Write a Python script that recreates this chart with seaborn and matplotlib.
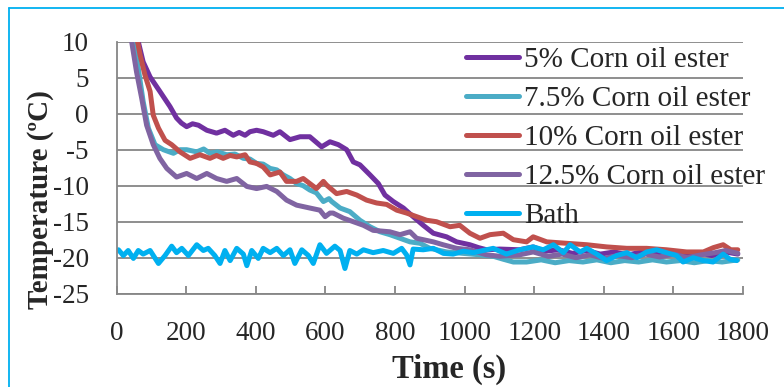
import matplotlib
matplotlib.use("Agg")
import matplotlib.pyplot as plt
import seaborn as sns
import pandas as pd
from matplotlib.lines import Line2D

sns.set_style("white")
plt.rcParams['font.family'] = ['Liberation Serif', 'DejaVu Serif']
plt.rcParams['axes.unicode_minus'] = False

# values (time in s, temperature in degC)
t_5 = [40, 62, 76, 96, 124, 153, 172, 186, 201, 218, 235, 259, 287, 311, 335, 352, 369, 383, 402, 421,
       450, 469, 498, 527, 555, 589, 613, 637, 661, 680, 699, 728, 752, 771, 795, 824, 852, 881, 910, 948,
       977, 1015, 1040, 1063, 1101, 1158, 1197, 1230, 1270, 1310, 1350, 1390, 1430, 1470, 1510, 1550,
       1590, 1630, 1670, 1710, 1750, 1785]
v_5 = [14.4, 10, 7.2, 5.1, 3.1, 1.0, -0.6, -1.3, -1.8, -1.4, -1.6, -2.3, -2.7, -2.3, -3.0, -2.6, -3.0, -2.5, -2.3, -2.5,
       -3.0, -2.5, -3.6, -3.2, -3.2, -4.6, -3.9, -4.3, -5.0, -6.7, -7.1, -8.5, -9.7, -11.3, -12.2, -13.1, -14.3, -15.5, -16.6, -17.1,
       -17.8, -18.2, -18.6, -18.9, -18.8, -18.9, -18.5, -19.1, -18.9, -19.4, -19.0, -19.5, -19.2, -19.6, -19.2, -19.5,
       -19.1, -19.6, -19.3, -19.7, -19.2, -19.5]

t_75 = [30, 48, 62, 76, 91, 110, 134, 163, 182, 201, 230, 250, 268, 290, 316, 340, 364, 383, 402, 421,
        441, 460, 479, 498, 517, 536, 555, 574, 594, 610, 618, 642, 670, 699, 728, 757, 785, 814, 843, 872,
        900, 948, 996, 1044, 1082, 1110, 1140, 1178, 1220, 1260, 1300, 1340, 1380, 1420, 1460, 1500,
        1540, 1580, 1620, 1660, 1700, 1740, 1785]
v_75 = [14.0, 10, 6.3, 1.7, -2.0, -4.3, -5.0, -5.5, -5.0, -5.0, -5.3, -4.9, -5.5, -5.3, -5.7, -5.6, -6.2, -6.3, -6.9, -7.0,
        -7.6, -7.8, -8.5, -9.0, -9.7, -10.0, -10.6, -11.0, -12.2, -11.8, -12.2, -13.1, -13.6, -14.8, -15.7, -16.4, -16.8, -17.3, -17.8, -18.0,
        -18.7, -19.2, -19.4, -19.6, -19.8, -20.2, -20.6, -20.6, -20.3, -20.7, -20.4, -20.6, -20.3, -20.7, -20.4, -20.6,
        -20.3, -20.6, -20.4, -20.7, -20.4, -20.6, -20.3]

t_10 = [40, 60, 67, 81, 96, 105, 120, 139, 158, 182, 211, 239, 268, 287, 306, 326, 345, 369, 383, 402,
        421, 441, 469, 488, 517, 536, 555, 574, 594, 603, 632, 661, 690, 718, 747, 776, 805, 833, 862, 891,
        919, 958, 986, 1015, 1044, 1073, 1111, 1140, 1178, 1197, 1236, 1293, 1351, 1408, 1466, 1523,
        1580, 1638, 1686, 1715, 1743, 1765, 1785]
v_10 = [14.5, 10, 8.2, 5.4, 3.1, -0.2, -2.0, -3.7, -4.3, -5.3, -6.2, -5.7, -6.2, -5.8, -6.2, -5.8, -6.0, -5.7, -6.7, -6.9,
        -7.4, -8.5, -8.1, -9.4, -9.4, -9.0, -9.7, -10.4, -9.4, -9.9, -11.1, -10.8, -11.3, -12.0, -12.4, -12.6, -13.4, -13.8, -14.3, -14.8,
        -15.0, -15.7, -15.5, -16.6, -17.3, -16.8, -16.6, -17.5, -17.8, -17.1, -17.8, -18.0, -18.2, -18.5, -18.7, -18.7,
        -18.9, -19.2, -19.2, -18.6, -18.2, -18.9, -18.9]

t_125 = [25, 43, 57, 72, 86, 105, 124, 144, 172, 201, 230, 259, 287, 316, 345, 374, 402, 431, 460, 488,
         517, 555, 584, 599, 613, 622, 651, 680, 709, 737, 785, 814, 843, 862, 910, 938, 977, 1015, 1063, 1101,
         1158, 1197, 1240, 1280, 1320, 1360, 1400, 1440, 1480, 1520, 1560, 1600, 1640, 1680, 1720, 1750, 1785]
v_125 = [14.5, 10, 5.8, 2.1, -1.6, -4.3, -6.2, -7.6, -8.8, -8.3, -9.0, -8.3, -9.0, -9.4, -9.0, -10.1, -10.4, -10.1, -10.8, -12.0,
         -12.7, -13.1, -13.4, -14.3, -13.8, -13.8, -14.5, -15.0, -15.5, -16.2, -16.4, -16.8, -16.4, -17.3, -17.8, -18.2, -18.7, -18.9, -19.6, -19.8,
         -19.6, -19.2, -19.8, -19.5, -20.0, -19.6, -20.1, -19.7, -20.0, -19.5, -19.9, -19.5, -20.0, -19.6, -19.3, -19.0, -19.4]

t_bath = [5, 19, 33, 48, 62, 76, 96, 120, 139, 158, 172, 187, 206, 230, 249, 263, 282, 297, 311, 326,
          345, 364, 374, 388, 407, 421, 441, 460, 479, 498, 512, 532, 551, 565, 584, 603, 627, 642, 656, 670,
          690, 709, 737, 766, 795, 819, 833, 843, 852, 881, 910, 939, 967, 996, 1025, 1053, 1082, 1120,
          1158, 1197, 1226, 1255, 1284, 1303, 1332, 1351, 1380, 1408, 1437, 1466, 1495, 1523, 1552, 1580,
          1609, 1628, 1657, 1686, 1714, 1743, 1762, 1782]
v_bath = [-18.9, -19.7, -19.0, -20.1, -19.0, -19.5, -19.0, -20.8, -19.7, -18.4, -19.3, -18.7, -19.7, -18.2, -19.0, -18.7, -19.7, -20.8, -19.0, -20.4,
          -18.7, -19.5, -21.1, -19.0, -20.1, -18.7, -19.3, -18.7, -19.7, -18.9, -20.8, -18.9, -19.7, -20.8, -18.2, -19.4, -18.4, -19.0, -21.5, -19.0,
          -19.5, -18.9, -19.3, -19.0, -19.4, -18.7, -19.6, -21.0, -18.8, -18.9, -18.7, -19.4, -19.5, -19.1, -19.3, -19.0, -18.7, -19.5,
          -18.9, -18.5, -18.9, -18.2, -19.3, -18.2, -19.2, -18.7, -19.5, -20.4, -19.7, -19.3, -20.0, -19.2, -18.9, -19.3,
          -19.7, -20.6, -20.0, -20.4, -20.6, -19.5, -20.2, -20.4]

labels = ["5% Corn oil ester", "7.5% Corn oil ester", "10% Corn oil ester", "12.5% Corn oil ester", "Bath"]
colors = ["#7030A0", "#4BACC6", "#C0504D", "#8064A2", "#00B0F0"]

series = [(t_5, v_5), (t_75, v_75), (t_10, v_10), (t_125, v_125), (t_bath, v_bath)]
frames = []
for lab, (t, v) in zip(labels, series):
    frames.append(pd.DataFrame({"Time": t, "Temp": v, "Series": lab}))
df = pd.concat(frames, ignore_index=True)

fig = plt.figure(figsize=(7.84, 3.87), dpi=100)
ax = fig.add_axes([116.7 / 784, 1 - 293.7 / 387, (743 - 116.7) / 784, (293.7 - 41.7) / 387])

sns.lineplot(data=df, x="Time", y="Temp", hue="Series", hue_order=labels,
             palette=dict(zip(labels, colors)), estimator=None, sort=False,
             lw=3.6, ax=ax, legend=False, solid_capstyle="round", solid_joinstyle="round")

ax.set_xlim(0, 1800)
ax.set_ylim(-25, 10)
ax.set_xticks(range(0, 1801, 200))
ax.set_yticks(range(-25, 11, 5))
ax.yaxis.grid(True, color="#868686", lw=1.3)
ax.xaxis.grid(False)
ax.set_axisbelow(True)
for s in ["top", "right"]:
    ax.spines[s].set_visible(False)
for s in ["left", "bottom"]:
    ax.spines[s].set_color("#868686")
    ax.spines[s].set_linewidth(1.3)
ax.tick_params(axis="x", direction="in", length=6, width=1.3, color="#868686",
               labelsize=19.5, pad=20, bottom=True)
ax.tick_params(axis="y", length=0, labelsize=19.5, pad=20)
ax.set_xlabel("Time (s)", fontsize=23.5, fontweight="bold")
ax.set_ylabel("Temperature (\u00baC)", fontsize=21, fontweight="bold")
ax.xaxis.set_label_coords(0.5306, -0.238)
ax.yaxis.set_label_coords(-0.1, 0.372)

handles = [Line2D([0], [0], color=c, lw=3.6, solid_capstyle="round") for c in colors]
fig.legend(handles, labels, loc="upper left", bbox_to_anchor=(466 / 784, 1 - 47 / 387),
           frameon=False, fontsize=21, handlelength=1.8, handletextpad=0.2,
           labelspacing=0.43, borderpad=0, borderaxespad=0)

# light blue frame around the chart area
fig.add_artist(Line2D([9 / 784, 9 / 784], [0, 1 - 8 / 387], color="#00B0F0", lw=1.3))
fig.add_artist(Line2D([9 / 784, 1], [1 - 8 / 387, 1 - 8 / 387], color="#00B0F0", lw=1.3))

fig.savefig("out.png", dpi=100)
